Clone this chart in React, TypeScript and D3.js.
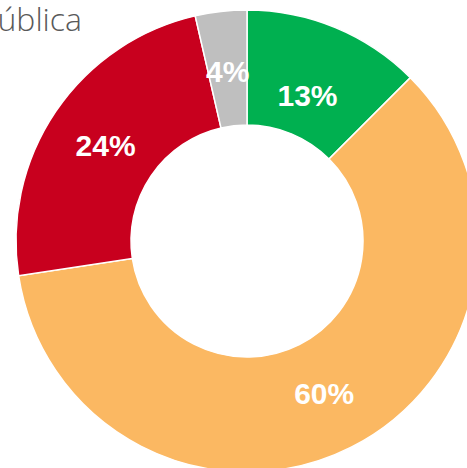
import * as d3 from 'd3';
import { useEffect, useRef } from 'react';

// slice data, clockwise from 12 o'clock
const categories = ['Verde', 'Naranja', 'Rojo', 'Gris'];
const values = [12.5, 60.1, 23.8, 3.6];
const colors = ['#00b050', '#fbb862', '#c8001e', '#bfbfbf'];
const titleText = 'Deuda Pública';

function Donut() {
  const ref = useRef<SVGSVGElement>(null);

  useEffect(() => {
    const w = 467, h = 468;
    const cx = 247, cy = 241;
    const outerRadius = 231, innerRadius = 116;

    const svg = d3.select(ref.current);
    svg.selectAll('*').remove();

    const pie = d3.pie<number>().sort(null).value(d => d);
    const arcs = pie(values);

    const arc = d3.arc<d3.PieArcDatum<number>>()
      .innerRadius(innerRadius)
      .outerRadius(outerRadius);

    const g = svg.append('g').attr('transform', `translate(${cx},${cy})`);

    g.selectAll('path')
      .data(arcs)
      .join('path')
      .attr('d', arc)
      .attr('fill', (_, i) => colors[i])
      .attr('stroke', '#fff')
      .attr('stroke-width', 1.5);

    // labels sit near the ring middle; the small first slice label is pulled in a bit
    const labelArc = (i: number) => {
      const r = i === 0 ? 158 : 171;
      return d3.arc<d3.PieArcDatum<number>>().innerRadius(r).outerRadius(r);
    };

    g.selectAll('text.lbl')
      .data(arcs)
      .join('text')
      .attr('class', 'lbl')
      .attr('transform', (d, i) => `translate(${labelArc(i).centroid(d)})`)
      .attr('text-anchor', 'middle')
      .attr('dy', '0.36em')
      .style('font-family', '"Liberation Sans", Arial, sans-serif')
      .style('font-weight', 'bold')
      .style('font-size', '30px')
      .style('fill', '#fff')
      .text(d => Math.round(d.data) + '%');

    svg.append('text')
      .attr('x', 82)
      .attr('y', 31)
      .attr('text-anchor', 'end')
      .style('font-family', '"Open Sans", sans-serif')
      .style('font-weight', 300)
      .style('font-size', '32px')
      .style('fill', '#595959')
      .text(titleText);

    svg.attr('width', w).attr('height', h);
  }, []);

  return <svg ref={ref} data-cats={categories.join(',')} style={{ position: 'absolute', left: 0, top: 0 }} />;
}

export default function App() {
  return <Donut />;
}
